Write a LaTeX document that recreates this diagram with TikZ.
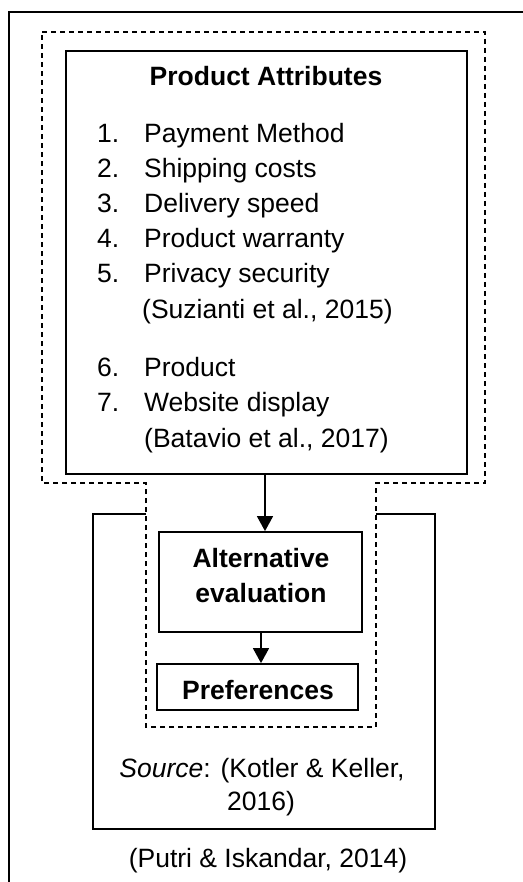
\documentclass[tikz,border=0pt]{standalone}
\usepackage{fontspec}
\setmainfont{Liberation Sans}
\usetikzlibrary{arrows.meta}
\begin{document}
\begin{tikzpicture}[x=1pt,y=-1pt,
  box/.style={draw,line width=1.8pt,rectangle,inner sep=0pt},
  frame/.style={line width=1.4pt},
  dsh/.style={line width=1.2pt,dash pattern=on 5pt off 4pt},
  arr/.style={line width=1.6pt,-{Triangle[width=16pt,length=15pt]}},
  txt/.style={font=\fontsize{26.5}{35}\selectfont,inner sep=0pt,anchor=base west},
  ctxt/.style={font=\fontsize{26.5}{35}\selectfont,inner sep=0pt,anchor=base},
  btxt/.style={font=\fontsize{26.5}{35}\selectfont\bfseries,inner sep=0pt,anchor=base}]
\useasboundingbox (0,0) rectangle (522,882);
% outer frame
\draw[frame] (530,12) -- (9,12) -- (9,890);
% dashed outline
\draw[dsh] (42,32) -- (485,32) -- (485,483) -- (376,483) -- (376,727) -- (146,727) -- (146,483) -- (42,483) -- cycle;
% Kotler box (broken top)
\draw[frame,line width=1.7pt] (146,514) -- (93,514) -- (93,829) -- (435,829) -- (435,514) -- (376,514);
% boxes
\node[box,minimum width=401pt,minimum height=423pt] (pa) at (266.5,262.5) {};
\node[box,minimum width=203pt,minimum height=100pt] (ae) at (260.5,582) {};
\node[box,minimum width=201pt,minimum height=46pt] (pr) at (257.5,687) {};
% texts
\node[btxt] (t0) at (266,86) {Product Attributes};
\node[txt] (n1) at (97,143) {1.};
\node[txt] (i1) at (144,143) {Payment Method};
\node[txt] (n2) at (97,178) {2.};
\node[txt] (i2) at (144,178) {Shipping costs};
\node[txt] (n3) at (97,213) {3.};
\node[txt] (i3) at (144,213) {Delivery speed};
\node[txt] (n4) at (97,248) {4.};
\node[txt] (i4) at (144,248) {Product warranty};
\node[txt] (n5) at (97,283) {5.};
\node[txt] (i5) at (144,283) {Privacy security};
\node[txt] (c1) at (142,318) {(Suzianti et al., 2015)};
\node[txt] (n6) at (97,376) {6.};
\node[txt] (i6) at (144,376) {Product};
\node[txt] (n7) at (97,411) {7.};
\node[txt] (i7) at (144,411) {Website display};
\node[txt] (c2) at (144,447) {(Batavio et al., 2017)};
\node[btxt] (a1t) at (261,567) {Alternative};
\node[btxt] (a2t) at (261,602) {evaluation};
\node[btxt] (prt) at (258,699) {Preferences};
\node[ctxt] (s1) at (262,777) {\textit{Source}: (Kotler \& Keller,};
\node[ctxt] (s2) at (261,810) {2016)};
\node[ctxt] (pu) at (268,867) {(Putri \& Iskandar, 2014)};
% arrows
\coordinate (x1) at (265,0);
\coordinate (x2) at (261,0);
\draw[arr] (pa.south -| x1) -- (ae.north -| x1);
\draw[arr] (ae.south -| x2) -- (pr.north -| x2);
\end{tikzpicture}
\end{document}
